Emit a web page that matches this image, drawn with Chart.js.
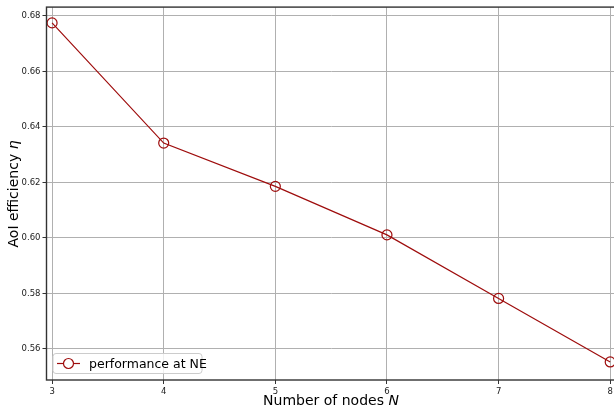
<!DOCTYPE html>
<html>
<head>
<meta charset="utf-8">
<script src="https://cdn.jsdelivr.net/npm/chart.js@4.4.1/dist/chart.umd.min.js"></script>
<style>
  html, body { margin: 0; padding: 0; background: #fff; overflow: hidden; }
  #wrap { width: 622px; height: 409px; position: relative; }
</style>
</head>
<body>
<div id="wrap"><canvas id="myChart"></canvas></div>
<script>
// data
const nodes = [3, 4, 5, 6, 7, 8];
const efficiency = [0.6775, 0.6342, 0.6186, 0.6011, 0.5782, 0.5553];
const xTicks = [3, 4, 5, 6, 7, 8];
const yTicks = [0.56, 0.58, 0.60, 0.62, 0.64, 0.66, 0.68];
const seriesLabel = 'performance at NE';

const lineColor = '#9e0c0c';
const font = "'DejaVu Sans', sans-serif";

const ctx = document.getElementById('myChart');

// frame, axis titles (with italic symbols) and the legend box
const decor = {
  id: 'decor',
  afterDraw: (chart) => {
    const {ctx, chartArea: a} = chart;
    ctx.save();
    ctx.strokeStyle = '#333';
    ctx.lineWidth = 1.4;
    ctx.strokeRect(a.left, a.top, a.right - a.left, a.bottom - a.top);

    // x title
    ctx.fillStyle = '#000';
    ctx.textBaseline = 'alphabetic';
    const xa = 'Number of nodes ', xb = 'N';
    ctx.font = '14px ' + font;
    const wa = ctx.measureText(xa).width;
    ctx.font = 'italic 14px ' + font;
    const wb = ctx.measureText(xb).width;
    let x0 = 331 - (wa + wb) / 2;
    ctx.font = '14px ' + font;
    ctx.fillText(xa, x0, 405);
    ctx.font = 'italic 14px ' + font;
    ctx.fillText(xb, x0 + wa, 405);

    // y title
    ctx.translate(18, 194);
    ctx.rotate(-Math.PI / 2);
    const ya = 'AoI efficiency ', yb = 'η';
    ctx.font = '14px ' + font;
    const ha = ctx.measureText(ya).width;
    ctx.font = 'italic 14px ' + font;
    const hb = ctx.measureText(yb).width;
    let y0 = -(ha + hb) / 2;
    ctx.font = '14px ' + font;
    ctx.fillText(ya, y0, 0);
    ctx.font = 'italic 14px ' + font;
    ctx.fillText(yb, y0 + ha, 0);
    ctx.restore();

    // legend
    ctx.save();
    const lx = a.left + 6.5, ly = a.bottom - 26.5, lw = 149, lh = 20;
    ctx.fillStyle = 'rgba(255,255,255,0.8)';
    ctx.strokeStyle = '#cccccc';
    ctx.lineWidth = 1;
    ctx.beginPath();
    ctx.roundRect(lx, ly, lw, lh, 3);
    ctx.fill();
    ctx.stroke();
    const my = ly + lh / 2;
    ctx.strokeStyle = lineColor;
    ctx.lineWidth = 1.2;
    ctx.beginPath();
    ctx.moveTo(lx + 4, my);
    ctx.lineTo(lx + 27, my);
    ctx.stroke();
    ctx.beginPath();
    ctx.arc(lx + 15.5, my, 5, 0, Math.PI * 2);
    ctx.fillStyle = '#fff';
    ctx.fill();
    ctx.stroke();
    ctx.fillStyle = '#000';
    ctx.font = '12.5px ' + font;
    ctx.textBaseline = 'middle';
    ctx.fillText(seriesLabel, lx + 36, my + 1);
    ctx.restore();
  }
};

new Chart(ctx, {
  type: 'line',
  data: {
    labels: nodes,
    datasets: [{
      label: seriesLabel,
      data: nodes.map((n, i) => ({x: n, y: efficiency[i]})),
      borderColor: lineColor,
      borderWidth: 1.2,
      pointRadius: 5,
      pointHoverRadius: 5,
      pointBorderWidth: 1.2,
      pointBorderColor: lineColor,
      pointBackgroundColor: 'rgba(0,0,0,0)',
      tension: 0,
      clip: false,
    }],
  },
  options: {
    responsive: true,
    maintainAspectRatio: false,
    animation: false,
    layout: { padding: { top: 7, right: 0, left: 0, bottom: 0 } },
    plugins: {
      legend: { display: false },
      tooltip: { enabled: false },
    },
    scales: {
      x: {
        type: 'linear',
        min: 2.95,
        max: 8.05,
        afterBuildTicks: (s) => { s.ticks = xTicks.map(v => ({value: v})); },
        afterFit: (s) => { s.height = 29; },
        grid: { color: '#b0b0b0', lineWidth: 1, tickLength: 4, tickColor: '#333' },
        border: { display: false },
        ticks: { color: '#222', font: { family: font, size: 8.5 }, padding: 3, maxRotation: 0 },
      },
      y: {
        min: 0.5488,
        max: 0.6832,
        afterBuildTicks: (s) => { s.ticks = yTicks.map(v => ({value: v})); },
        afterFit: (s) => { s.width = 46.5; },
        grid: { color: '#b0b0b0', lineWidth: 1, tickLength: 4, tickColor: '#333' },
        border: { display: false },
        ticks: {
          color: '#222',
          font: { family: font, size: 8.5 },
          padding: 2,
          callback: (v) => v.toFixed(2),
        },
      },
    },
  },
  plugins: [decor],
});
</script>
</body>
</html>
